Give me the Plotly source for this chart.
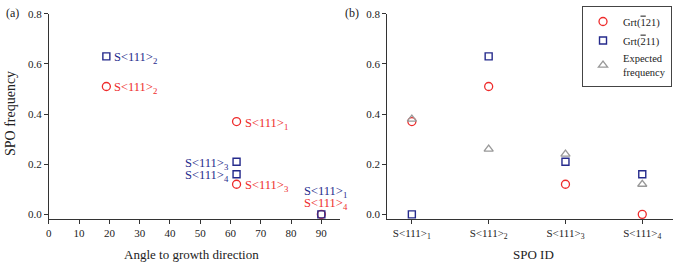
import plotly.graph_objects as go

# Panel (a): angle to growth direction vs SPO frequency
angle_red = [19, 62, 62, 90]
freq_red = [0.51, 0.37, 0.12, 0.0]
label_red = ["2", "1", "3", "4"]
angle_blue = [19, 62, 62, 90]
freq_blue = [0.63, 0.21, 0.16, 0.0]
label_blue = ["2", "3", "4", "1"]

# Panel (b): SPO ID
spo_ids = ["S<111>1", "S<111>2", "S<111>3", "S<111>4"]
spo_tick = ["S&lt;111&gt;<sub>1</sub>", "S&lt;111&gt;<sub>2</sub>",
            "S&lt;111&gt;<sub>3</sub>", "S&lt;111&gt;<sub>4</sub>"]
grt_121 = [0.37, 0.51, 0.12, 0.0]
grt_211 = [0.0, 0.63, 0.21, 0.16]
expected = [0.38, 0.26, 0.24, 0.12]

OV = "<span style='text-decoration:overline'>{}</span>"
name_red = "Grt(" + OV.format("1") + "21)"
name_blue = "Grt(" + OV.format("2") + "11)"
name_exp = "Expected<br>frequency"

RED = "#ee2b2b"
BLUE = "#252a8c"
GRAY = "#999999"
FONT = "Liberation Serif"
AX = "#333333"
TXT = "#222222"

fig = go.Figure()

mk_red = dict(symbol="circle-open", size=8, color=RED, line=dict(width=1.3, color=RED))
mk_blue = dict(symbol="square-open", size=7, color=BLUE, line=dict(width=1.4, color=BLUE))
mk_gray = dict(symbol="triangle-up-open", size=8, color=GRAY, line=dict(width=1.3, color=GRAY))

fig.add_trace(go.Scatter(x=angle_red, y=freq_red, mode="markers", marker=mk_red,
                         showlegend=False, xaxis="x", yaxis="y", cliponaxis=False))
fig.add_trace(go.Scatter(x=angle_blue, y=freq_blue, mode="markers", marker=mk_blue,
                         showlegend=False, xaxis="x", yaxis="y", cliponaxis=False))

xi = list(range(len(spo_ids)))
fig.add_trace(go.Scatter(x=xi, y=grt_121, mode="markers", marker=mk_red, name=name_red,
                         xaxis="x2", yaxis="y2", cliponaxis=False))
fig.add_trace(go.Scatter(x=xi, y=grt_211, mode="markers", marker=mk_blue, name=name_blue,
                         xaxis="x2", yaxis="y2", cliponaxis=False))
fig.add_trace(go.Scatter(x=xi, y=expected, mode="markers", marker=mk_gray, name=name_exp,
                         xaxis="x2", yaxis="y2", cliponaxis=False))

axis_common = dict(showgrid=False, zeroline=False, showline=True, linecolor=AX, linewidth=1,
                   ticks="outside", ticklen=4, tickcolor=AX, tickwidth=1,
                   tickfont=dict(family=FONT, size=11, color=TXT))

ydom = [0.169, 0.9696]
fig.update_layout(
    width=674, height=263, margin=dict(l=0, r=0, t=0, b=0),
    paper_bgcolor="white", plot_bgcolor="white",
    font=dict(family=FONT, size=12, color=TXT),
    xaxis=dict(domain=[0.0683, 0.5015], range=[0, 96], tickvals=list(range(0, 100, 10)),
               anchor="y", **axis_common),
    yaxis=dict(domain=ydom, range=[-0.0175, 0.8], tickvals=[0, 0.2, 0.4, 0.6, 0.8],
               tickformat=".1f", anchor="x", **axis_common),
    xaxis2=dict(domain=[0.5727, 0.9985], range=[-0.32, 3.4], tickvals=xi, ticktext=spo_tick,
                anchor="y2", **axis_common),
    yaxis2=dict(domain=ydom, range=[-0.0175, 0.8], tickvals=[0, 0.2, 0.4, 0.6, 0.8],
                tickformat=".1f", anchor="x2", **axis_common),
    legend=dict(x=672 / 674, y=1.0, xanchor="right", yanchor="top",
                bordercolor="#444", borderwidth=1, bgcolor="white",
                font=dict(family=FONT, size=10.5, color=TXT),
                itemwidth=30, tracegroupgap=0),
)

ann = []
def S(sub):
    return "S&lt;111&gt;<sub>" + sub + "</sub>"

# point labels in (a): (xshift, xanchor, yshift)
offsets_red = [(6, "left", 0), (6, "left", 0), (6, "left", 0), (-19, "left", 12)]
offsets_blue = [(6, "left", 0), (-6, "right", 0), (-6, "right", 0), (-19, "left", 24)]
for x, y, s, (dx, xa, dy) in zip(angle_red, freq_red, label_red, offsets_red):
    ann.append(dict(x=x, y=y, xref="x", yref="y", text=S(s), showarrow=False,
                    xanchor=xa, yanchor="middle", xshift=dx, yshift=dy - 2,
                    font=dict(family=FONT, size=12.5, color=RED)))
for x, y, s, (dx, xa, dy) in zip(angle_blue, freq_blue, label_blue, offsets_blue):
    ann.append(dict(x=x, y=y, xref="x", yref="y", text=S(s), showarrow=False,
                    xanchor=xa, yanchor="middle", xshift=dx, yshift=dy - 2,
                    font=dict(family=FONT, size=12.5, color=BLUE)))

# titles and panel labels
ann += [
    dict(x=189 / 674, y=1 - 255 / 263, xref="paper", yref="paper", text="Angle to growth direction",
         showarrow=False, xanchor="center", yanchor="middle", font=dict(family=FONT, size=13)),
    dict(x=533 / 674, y=1 - 255 / 263, xref="paper", yref="paper", text="SPO ID",
         showarrow=False, xanchor="center", yanchor="middle", font=dict(family=FONT, size=13)),
    dict(x=7 / 674, y=1 - 110 / 263, xref="paper", yref="paper", text="SPO frequency",
         showarrow=False, xanchor="center", yanchor="middle", textangle=-90,
         font=dict(family=FONT, size=14)),
    dict(x=1 / 674, y=1 - 7 / 263, xref="paper", yref="paper", text="(a)",
         showarrow=False, xanchor="left", yanchor="middle", font=dict(family=FONT, size=12)),
    dict(x=342 / 674, y=1 - 7 / 263, xref="paper", yref="paper", text="(b)",
         showarrow=False, xanchor="left", yanchor="middle", font=dict(family=FONT, size=12)),
]
fig.update_layout(annotations=ann)

fig.write_html("out.html")
